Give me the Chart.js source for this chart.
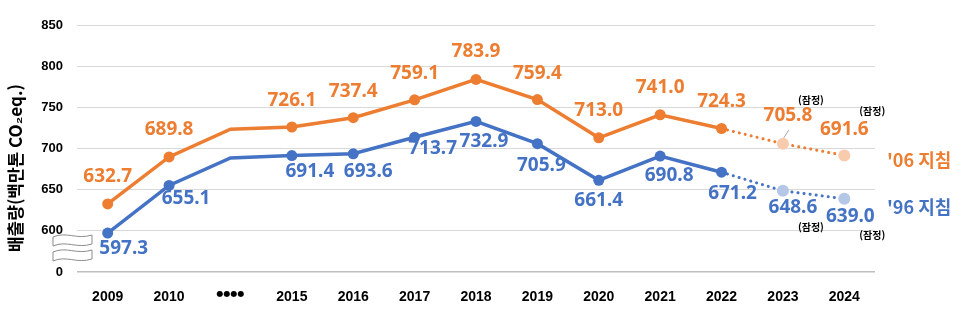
<!DOCTYPE html>
<html lang="ko">
<head>
<meta charset="utf-8">
<script src="https://cdn.jsdelivr.net/npm/chart.js@4.4.1/dist/chart.umd.min.js"></script>
<style>
  html, body { margin: 0; padding: 0; background: #fff; }
  #wrap { width: 970px; height: 327px; position: relative; }
</style>
</head>
<body>
<div id="wrap"><canvas id="emissions"></canvas></div>
<script>
// 연도 (2011~2014는 생략 구간)
const years = ['2009', '2010', '●●●●', '2015', '2016', '2017', '2018', '2019', '2020', '2021', '2022', '2023', '2024'];
const gapCategory = '●●●●';
const provisionalYears = ['2023', '2024'];

// 배출량 (백만 톤 CO2eq.)
const guideline2006 = [632.7, 689.8, 723.5, 726.1, 737.4, 759.1, 783.9, 759.4, 713.0, 741.0, 724.3, 705.8, 691.6];
const guideline1996 = [597.3, 655.1, 688.5, 691.4, 693.6, 713.7, 732.9, 705.9, 661.4, 690.8, 671.2, 648.6, 639.0];

// 축 눈금: 맨 아래 눈금은 "0"으로 표시 (물결 생략 기호)
const yMin = 550, yMax = 850, yStep = 50;
const yBottomLabel = '0';

const ORANGE = '#ED7D31', ORANGE_LIGHT = '#F8CBAD';
const BLUE = '#4472C4', BLUE_LIGHT = '#B4C7E7';

// 값 라벨 위치 (점 기준 이동량)
const orangeOffsets = [[0,-27],[0,-27],null,[0,-26],[0,-26],[0,-26],[0,-28],[0,-26],[0,-27],[0,-27],[0,-27],[5,-28],[0,-26]];
const blueOffsets = [[16,16],[17,13],null,[18,16],[15,18],[18,11],[8,20],[4,22],[0,20],[9,20],[11,21],[10,17],[6,18]];

const isProvisional = i => provisionalYears.includes(years[i]);

function series(label, data, color, light, offsets) {
    return {
        label: label,
        data: data,
        borderColor: color,
        borderWidth: 3.5,
        borderCapStyle: 'round',
        tension: 0,
        pointRadius: ctx => years[ctx.dataIndex] === gapCategory ? 0 : (isProvisional(ctx.dataIndex) ? 6 : 5.5),
        pointHoverRadius: 0,
        pointBackgroundColor: ctx => isProvisional(ctx.dataIndex) ? light : color,
        pointBorderWidth: 0,
        segment: {
            borderDash: ctx => isProvisional(ctx.p1DataIndex) ? [0.1, 6] : undefined,
            borderWidth: ctx => isProvisional(ctx.p1DataIndex) ? 3 : undefined
        },
        offsets: offsets
    };
}

const labelPlugin = {
    id: 'valueLabels',
    afterDatasetsDraw(chart) {
        const ctx = chart.ctx;
        ctx.save();
        ctx.textAlign = 'center';
        ctx.textBaseline = 'middle';
        chart.data.datasets.forEach((ds, di) => {
            const meta = chart.getDatasetMeta(di);
            meta.data.forEach((pt, i) => {
                if (years[i] === gapCategory) return;
                const off = ds.offsets[i];
                ctx.font = 'bold 19px "Noto Sans", sans-serif';
                ctx.fillStyle = ds.borderColor;
                ctx.fillText(ds.data[i].toFixed(1), pt.x + off[0], pt.y + off[1]);
                if (isProvisional(i)) {
                    // (잠정) 표시
                    const up = off[1] < 0;
                    ctx.font = 'bold 10px "Noto Sans CJK KR", sans-serif';
                    ctx.fillStyle = '#000';
                    const dy = up ? -44 : 36;
                    ctx.fillText('(잠정)', pt.x + 28, pt.y + dy);
                }
            });
        });
        // 2023 '06 라벨 지시선
        const p = chart.getDatasetMeta(0).data[years.indexOf('2023')];
        ctx.strokeStyle = '#a6a6a6';
        ctx.lineWidth = 1;
        ctx.beginPath();
        ctx.moveTo(p.x + 6, p.y - 14);
        ctx.lineTo(p.x + 1, p.y - 6);
        ctx.stroke();

        // 계열 이름
        ctx.textAlign = 'left';
        ctx.font = 'bold 18px "Noto Sans CJK KR", sans-serif';
        ctx.fillStyle = ORANGE;
        ctx.fillText("'06 지침", 887, 160);
        ctx.fillStyle = BLUE;
        ctx.fillText("'96 지침", 887, 207);

        // 세로축 제목
        ctx.save();
        ctx.translate(16, 168);
        ctx.rotate(-Math.PI / 2);
        ctx.textAlign = 'center';
        ctx.font = 'bold 17px "Noto Sans CJK KR", sans-serif';
        ctx.fillStyle = '#000';
        ctx.fillText('배출량(백만톤 CO₂eq.)', 0, 0);
        ctx.restore();

        // 축 생략 물결 기호
        const wave = (x0, x1, y, h) => {
            const w = x1 - x0;
            ctx.beginPath();
            ctx.moveTo(x0, y + 2);
            ctx.bezierCurveTo(x0 + w * 0.35, y - 4, x0 + w * 0.6, y + 5, x1, y);
            ctx.lineTo(x1, y + h);
            ctx.bezierCurveTo(x0 + w * 0.6, y + h + 5, x0 + w * 0.35, y + h - 4, x0, y + h + 2);
            ctx.closePath();
            ctx.fillStyle = '#fff';
            ctx.fill();
            ctx.strokeStyle = '#8c8c8c';
            ctx.lineWidth = 1;
            ctx.stroke();
        };
        wave(53, 92, 235, 9);
        wave(53, 92, 250, 9);
        ctx.restore();
    }
};

new Chart(document.getElementById('emissions'), {
    type: 'line',
    data: {
        labels: years,
        datasets: [
            series("'06 지침", guideline2006, ORANGE, ORANGE_LIGHT, orangeOffsets),
            series("'96 지침", guideline1996, BLUE, BLUE_LIGHT, blueOffsets)
        ]
    },
    options: {
        responsive: true,
        maintainAspectRatio: false,
        animation: false,
        layout: { padding: { top: 25, right: 95, left: 0, bottom: 0 } },
        plugins: {
            legend: { display: false },
            tooltip: { enabled: false }
        },
        scales: {
            x: {
                offset: true,
                afterFit: scale => { scale.height = 55; },
                grid: { display: false },
                border: { display: false },
                ticks: {
                    color: '#000',
                    padding: 9,
                    font: ctx => ctx.tick && ctx.tick.label === gapCategory
                        ? { family: 'DejaVu Sans', size: 8, weight: 'bold' }
                        : { family: '"Liberation Sans", Arial, sans-serif', size: 14, weight: 'bold' }
                }
            },
            y: {
                min: yMin,
                max: yMax,
                afterFit: scale => { scale.width = 77; },
                border: { display: false },
                grid: {
                    drawTicks: false,
                    color: ctx => ctx.index === 0 ? '#bfbfbf' : '#d9d9d9',
                    lineWidth: ctx => ctx.index === 0 ? 1.5 : 1
                },
                ticks: {
                    stepSize: yStep,
                    padding: 14,
                    color: '#000',
                    font: { family: '"Liberation Sans", Arial, sans-serif', size: 13, weight: 'bold' },
                    callback: v => v === yMin ? yBottomLabel : v
                }
            }
        }
    },
    plugins: [labelPlugin]
});
</script>
</body>
</html>
